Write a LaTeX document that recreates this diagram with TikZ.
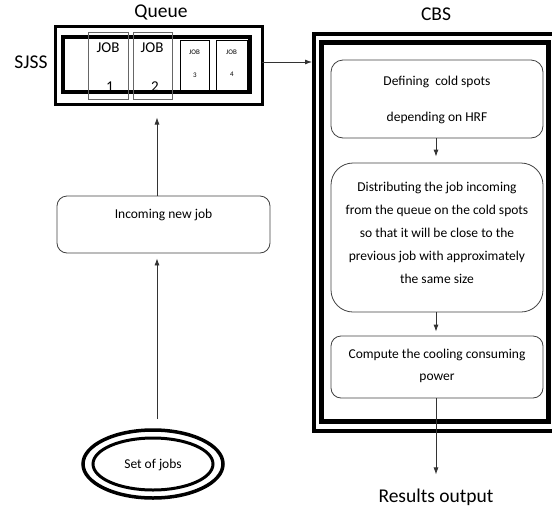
\documentclass[tikz,border=0pt]{standalone}
\usepackage{fontspec}
\setmainfont{Carlito}
\usetikzlibrary{arrows.meta,shapes.geometric}
\begin{document}
\begin{tikzpicture}[x=1pt,y=-1pt,
  box/.style={draw=black!75,line width=0.8pt,rounded corners=10pt,inner sep=0pt},
  txt/.style={inner sep=0pt,font=\fontsize{13.5}{23}\selectfont,align=center},
  big/.style={inner sep=0pt,font=\fontsize{19.5}{21}\selectfont},
  thinbox/.style={draw=black!60,line width=0.6pt,inner sep=0pt},
  arr/.style={draw=black!80,line width=0.8pt,-{Latex[length=7pt,width=5pt]}}
]
\useasboundingbox (0,0) rectangle (552,512);
% Queue
\node[draw,line width=3pt,minimum width=207pt,minimum height=78pt,inner sep=0pt] (queue) at (158.5,65) {};
\node[draw,line width=4pt,minimum width=187pt,minimum height=55pt,inner sep=0pt] (qin) at (156.5,64.5) {};
\node[thinbox,minimum width=40pt,minimum height=67pt] (j1) at (108,65.5) {};
\node[thinbox,minimum width=39pt,minimum height=67pt] (j2) at (152.5,65.5) {};
\node[draw,line width=0.6pt,minimum width=29pt,minimum height=50pt,inner sep=0pt] (j3) at (194.5,65) {};
\node[draw,line width=0.6pt,minimum width=31pt,minimum height=50pt,inner sep=0pt] (j4) at (231.5,65) {};
\node[inner sep=0pt,font=\fontsize{15}{16}\selectfont] (j1a) at (108,48) {JOB};
\node[inner sep=0pt,font=\fontsize{15}{16}\selectfont] (j1b) at (110,87) {1};
\node[inner sep=0pt,font=\fontsize{15}{16}\selectfont] (j2a) at (152,48) {JOB};
\node[inner sep=0pt,font=\fontsize{15}{16}\selectfont] (j2b) at (155,87) {2};
\node[inner sep=0pt,font=\fontsize{7}{8}\selectfont] (j3a) at (194.5,52) {JOB};
\node[inner sep=0pt,font=\fontsize{7}{8}\selectfont] (j3b) at (195,75) {3};
\node[inner sep=0pt,font=\fontsize{7}{8}\selectfont] (j4a) at (231.5,52) {JOB};
\node[inner sep=0pt,font=\fontsize{7}{8}\selectfont] (j4b) at (232,74) {4};
\node[big] (qlabel) at (161,12) {Queue};
\node[big] (sjss) at (31,62) {SJSS};
% CBS
\node[draw,line width=4pt,minimum width=242pt,minimum height=397pt,inner sep=0pt] (cbs) at (435,232.5) {};
\node[draw,line width=5pt,minimum width=227pt,minimum height=379pt,inner sep=0pt] (cbsin) at (434.5,231.5) {};
\node[big] (cbslabel) at (436,14) {CBS};
\node[box,rounded corners=12pt,minimum width=212pt,minimum height=78pt] (b1) at (437,99) {};
\node[txt,font=\fontsize{13.5}{36}\selectfont] (t1) at (437,100) {Defining\ \ cold spots\\depending on HRF};
\node[box,rounded corners=22pt,minimum width=212pt,minimum height=149pt] (b2) at (437,237.5) {};
\node[txt] (t2) at (437,233) {Distributing the job incoming\\from the queue on the cold spots\\so that it will be close to the\\previous job with approximately\\the same size};
\node[box,minimum width=212pt,minimum height=62pt] (b3) at (437,367) {};
\node[txt,font=\fontsize{13.5}{22}\selectfont] (t3) at (437,366) {Compute the cooling consuming\\power};
\node[inner sep=0pt,font=\fontsize{19.5}{21}\selectfont] (res) at (436,497) {Results output};
% Incoming
\node[box,minimum width=213pt,minimum height=57pt] (inc) at (163.5,224.5) {};
\node[txt] (inct) at (163.5,215) {Incoming new job};
% Set of jobs
\node[draw,ellipse,line width=3.5pt,minimum width=140pt,minimum height=68pt,inner sep=0pt] (setout) at (153,464) {};
\node[draw,ellipse,line width=3pt,minimum width=120pt,minimum height=52pt,inner sep=0pt] (setin) at (153,464) {};
\node[txt] (sett) at (153,465) {Set of jobs};
% connectors
\coordinate (s1) at (157,419);
\coordinate (s2) at (157,196);
\coordinate (qe) at (262,62);
\draw[arr,shorten >=5pt] (s1) -- (s1 |- inc.south);
\draw[arr,shorten >=12pt] (s2) -- (s2 |- queue.south);
\draw[arr] (qe) -- (qe -| cbs.west);
\coordinate (a1) at (436,138);
\draw[arr,shorten >=6pt] (a1) -- (a1 |- b2.north);
\coordinate (a2) at (436,312);
\draw[arr,shorten >=4pt] (a2) -- (a2 |- b3.north);
\coordinate (a3) at (436,398);
\draw[arr,shorten >=14pt] (a3) -- (a3 |- res.north);
\end{tikzpicture}
\end{document}
